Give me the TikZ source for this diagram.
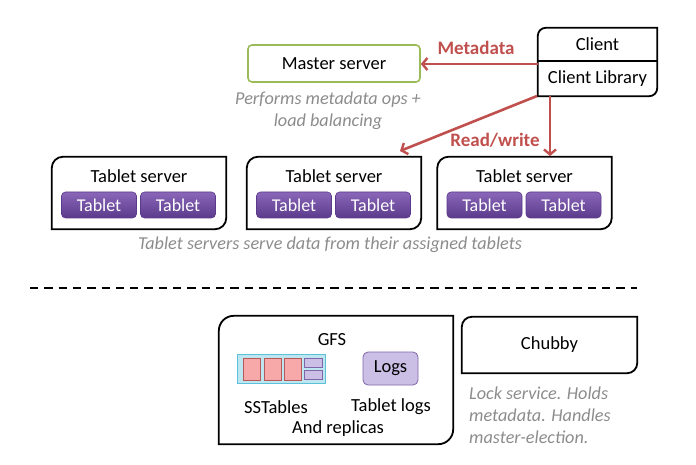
\documentclass[tikz,border=0pt]{standalone}
\usepackage{fontspec}
\setmainfont{Carlito}
\usetikzlibrary{arrows.meta,calc}
\definecolor{arrred}{HTML}{C0504D}
\definecolor{mgreen}{HTML}{9BBB59}
\definecolor{capgray}{HTML}{8C8C8C}
\definecolor{tabtop}{HTML}{8A67B8}
\definecolor{tabbot}{HTML}{5B3A8C}
\definecolor{lavfill}{HTML}{CBBFE6}
\definecolor{lavdraw}{HTML}{7F66A8}
\definecolor{pinkfill}{HTML}{F7A9A9}
\definecolor{pinkdraw}{HTML}{B55A5A}
\definecolor{bluefill}{HTML}{BDE6F0}
\definecolor{bluedraw}{HTML}{5BC0D8}
\newcommand\cornerbox[3][]{\draw[#1] ([yshift=-#3]#2.north west) arc[start angle=180,end angle=90,radius=#3] -- (#2.north east) -- ([yshift=#3]#2.south east) arc[start angle=0,end angle=-90,radius=#3] -- (#2.south west) -- cycle;}
\begin{document}
\begin{tikzpicture}[x=1pt,y=-1pt,
  every node/.style={font=\fontsize{18.5}{22}\selectfont, inner sep=0pt},
  tabpill/.style={rounded corners=4pt, top color=tabtop, bottom color=tabbot, draw=tabbot, line width=0.6pt, text=white, minimum width=75pt, minimum height=26pt, font=\fontsize{18}{22}\selectfont},
  captext/.style={text=capgray, font=\fontsize{18.2}{22}\selectfont\itshape, align=center},
  flowarrow/.style={draw=arrred, line width=2.6pt, -{Straight Barb[length=5pt,width=12pt,line width=2.4pt]}},
  flowlab/.style={text=arrred, font=\fontsize{19}{22}\selectfont\bfseries},
  pinkrect/.style={fill=pinkfill, draw=pinkdraw, line width=0.6pt, minimum width=17pt, minimum height=22pt},
  lavrect/.style={fill=lavfill, draw=lavdraw, line width=0.6pt, minimum width=18pt, minimum height=9pt},
]
\useasboundingbox (0,0) rectangle (696,465);

% master
\node[draw=mgreen, line width=1.6pt, rounded corners=4pt, minimum width=172pt, minimum height=37pt] (master) at (334,63.5) {Master server};
\node[captext] (mcap) at (328,111) {Performs metadata ops +\\load balancing};

% client
\node[minimum width=119pt, minimum height=33pt] (client) at (597.5,44.5) {Client};
\node[minimum width=119pt, minimum height=35pt] (clientlib) at (597.5,78.5) {Client Library};
\draw[line width=1.8pt] ([yshift=-8pt]client.north west) arc[start angle=180,end angle=90,radius=8pt] -- (client.north east) -- ([yshift=8pt]clientlib.south east) arc[start angle=0,end angle=-90,radius=8pt] -- (clientlib.south west) -- cycle;
\draw[line width=1.6pt] (client.south west) -- (client.south east);

% tablet servers
\foreach \n/\cx in {1/139,2/334,3/524.5}{
  \node[minimum width=174pt, minimum height=72pt] (ts\n) at (\cx,193) {};
  \cornerbox[line width=1.8pt]{ts\n}{11pt}
  \node (ts\n t) at (\cx,176) {Tablet server};
  \node[tabpill] (ts\n a) at (\cx-40,205) {Tablet};
  \node[tabpill] (ts\n b) at (\cx+39,205) {Tablet};
}
\node[captext] (tcap) at (330,245) {Tablet servers serve data from their assigned tablets};

% arrows
\coordinate (rw1) at (537,96);
\coordinate (rw2) at (550,96);
\draw[flowarrow] (clientlib.west |- 0,64) -- (master.east |- 0,64);
\draw[flowarrow] (rw1) -- (400,151);
\draw[flowarrow] (rw2) -- (550,156);
\node[flowlab] (mlab) at (476,48) {Metadata};
\node[flowlab] (rwlab) at (495,140) {Read/write};

% dashed separator
\coordinate (d1) at (30,288);
\coordinate (d2) at (637,288);
\draw[line width=2.6pt, dash pattern=on 8.3pt off 6pt] (d1) -- (d2);

% GFS
\node[minimum width=234pt, minimum height=128pt] (gfs) at (336,380) {};
\cornerbox[line width=1.8pt]{gfs}{15pt}
\node (gfst) at (332,340) {GFS};
\node[fill=bluefill, draw=bluedraw, line width=0.8pt, minimum width=88pt, minimum height=29pt] (sst) at (281,368.5) {};
\node[pinkrect] (p1) at (252,369) {};
\node[pinkrect] (p2) at (273,369) {};
\node[pinkrect] (p3) at (292.5,369) {};
\node[lavrect] (l1) at (313,362.8) {};
\node[lavrect] (l2) at (313,375.2) {};
\node[fill=lavfill, draw=lavdraw, line width=0.8pt, rounded corners=5pt, minimum width=55pt, minimum height=33pt] (logs) at (390.5,368.5) {Logs};
\node (sstt) at (276,407) {SSTables};
\node (logst) at (391,407) {Tablet logs};
\node (repl) at (338,429) {And replicas};

% Chubby
\node[minimum width=175pt, minimum height=56pt] (chubby) at (549.5,345) {Chubby};
\cornerbox[line width=1.8pt]{chubby}{10pt}
\node[captext, align=left, anchor=west] (ccap) at (469,415) {Lock service. Holds\\metadata. Handles\\master-election.};
\end{tikzpicture}
\end{document}
